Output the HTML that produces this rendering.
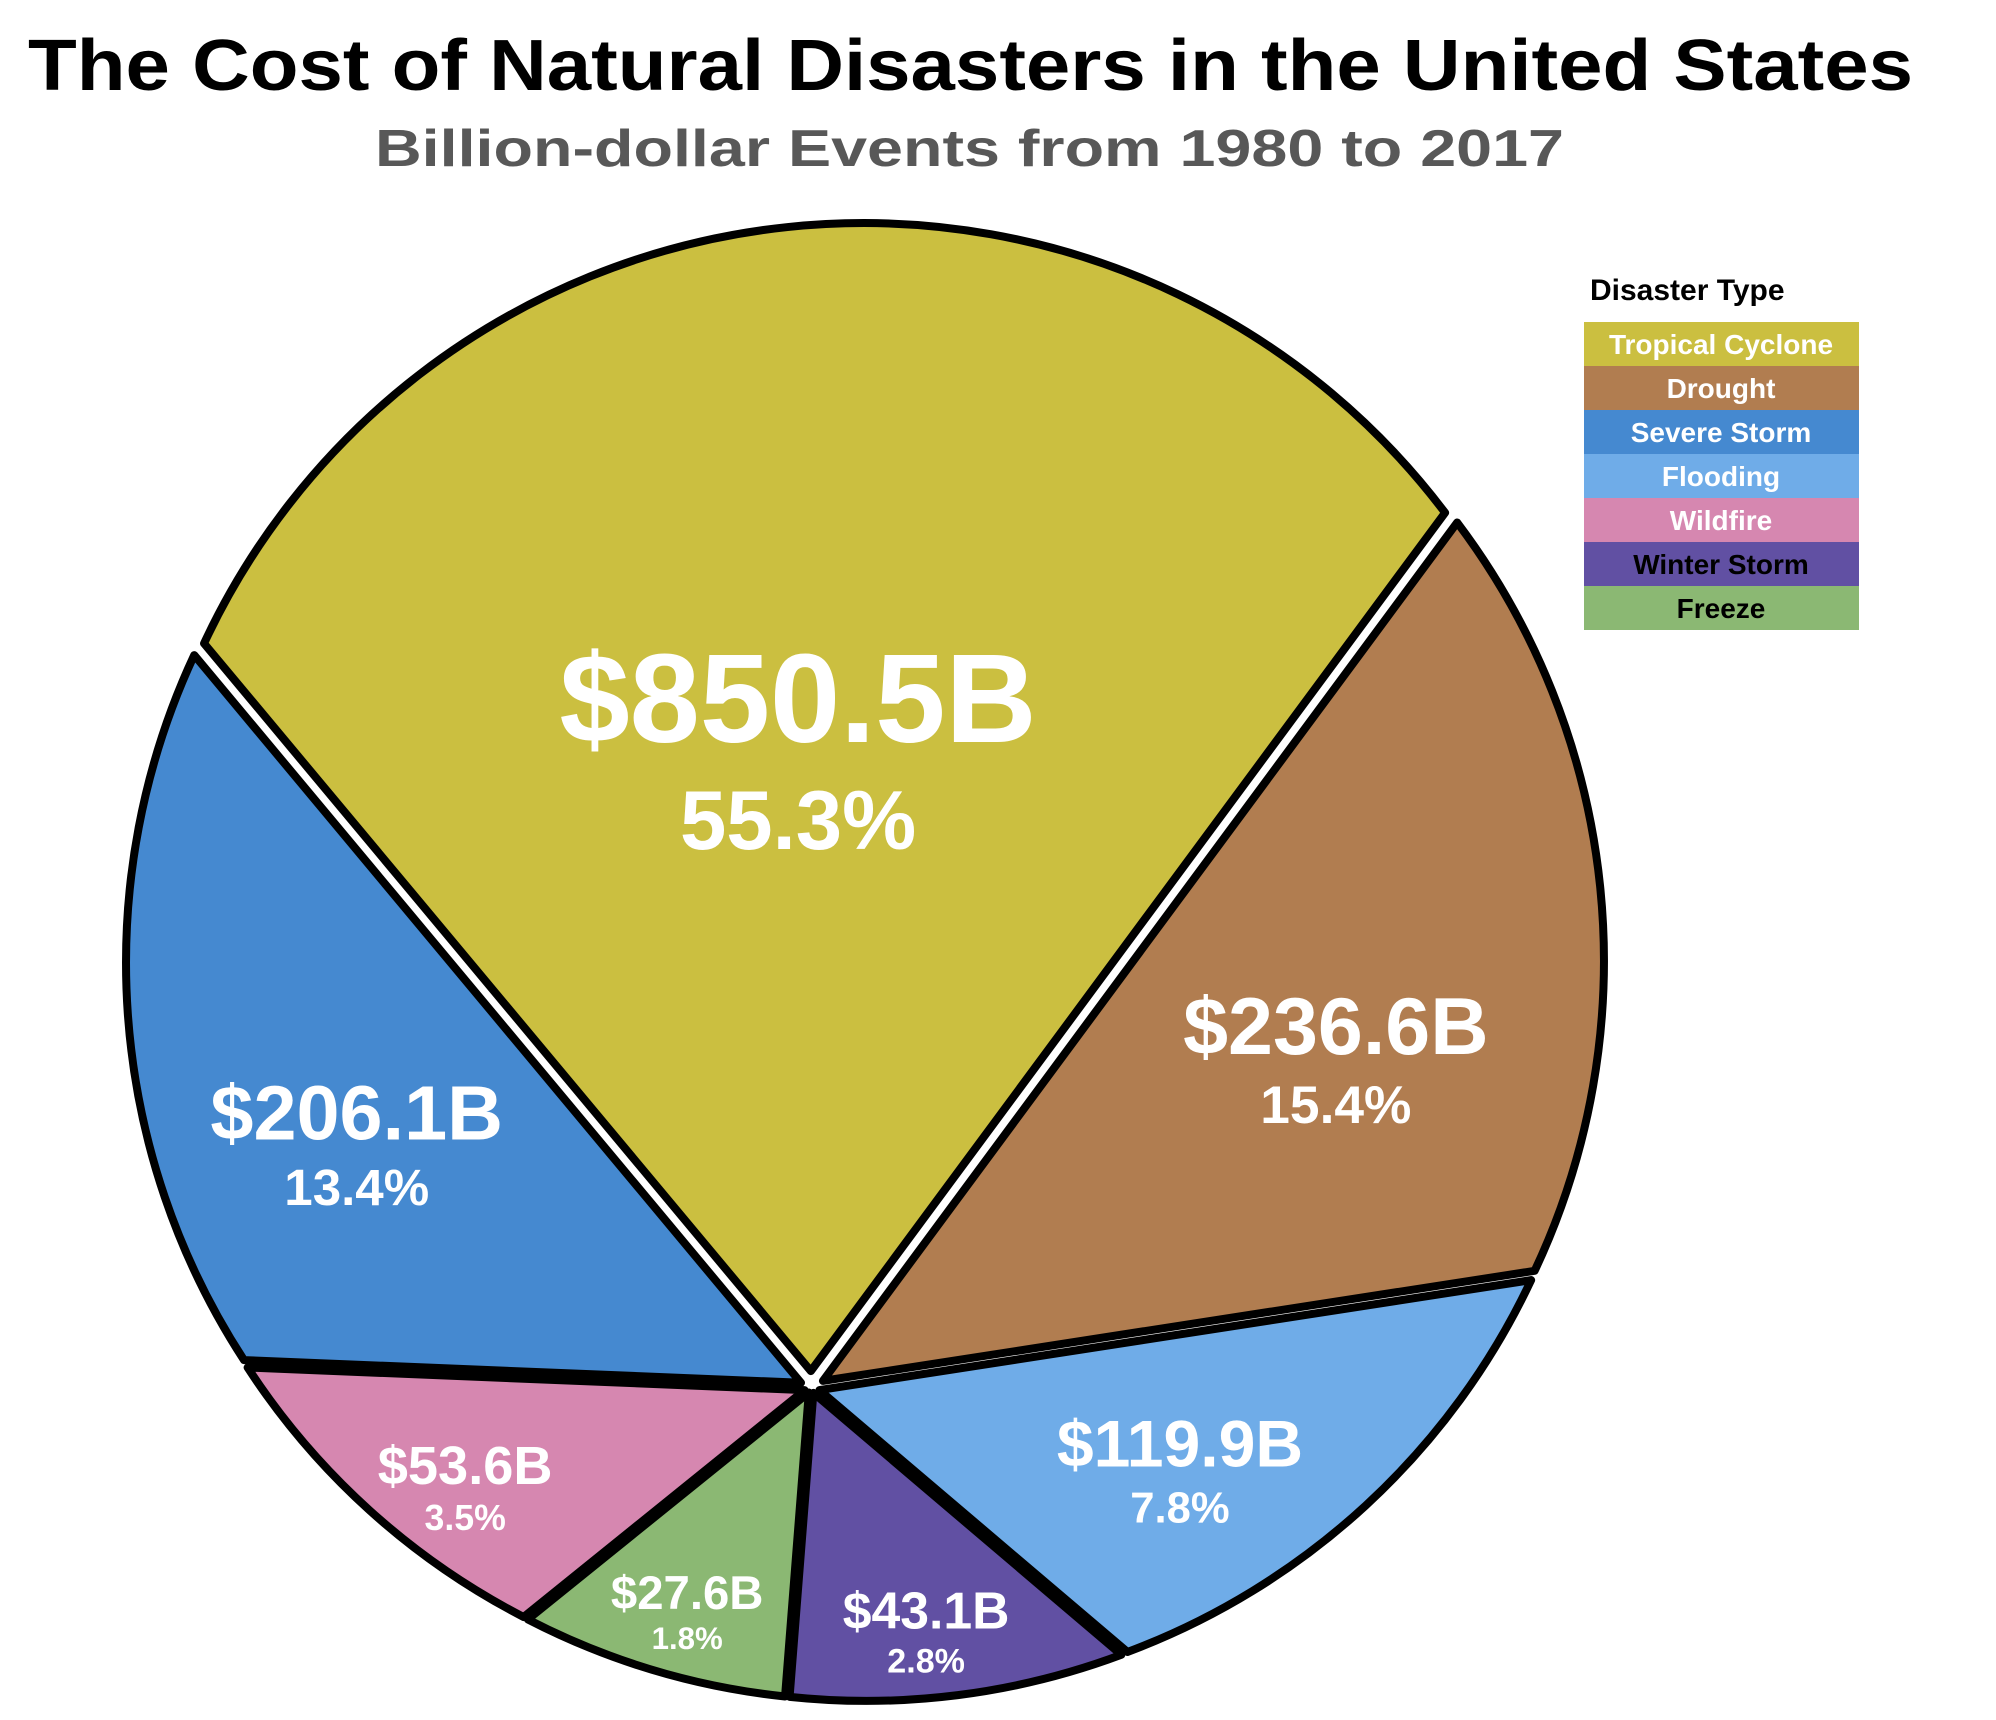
<!DOCTYPE html>
<html><head><meta charset="utf-8"><style>
html,body{margin:0;padding:0;background:#fff;}
svg{display:block;font-family:"Liberation Sans",sans-serif;font-weight:bold;}
</style></head><body>
<svg id="chart" width="1996" height="1720" viewBox="0 0 1996 1720">
<text x="28" y="90" font-size="72" textLength="1885" lengthAdjust="spacingAndGlyphs" fill="#000">The Cost of Natural Disasters in the United States</text>
<text x="375" y="166" font-size="52" textLength="1189" lengthAdjust="spacingAndGlyphs" fill="#585858">Billion-dollar Events from 1980 to 2017</text>
<g id="slices"></g>
<g id="labels"></g>
<g id="legend">
<text x="1590" y="300" font-size="30" fill="#000">Disaster Type</text>
</g>
</svg>
<script>
const categories = ["Tropical Cyclone","Drought","Flooding","Winter Storm","Freeze","Wildfire","Severe Storm"];
const costs = [850.5, 236.6, 119.9, 43.1, 27.6, 53.6, 206.1];
const percents = ["55.3%","15.4%","7.8%","2.8%","1.8%","3.5%","13.4%"];
const costLabels = ["$850.5B","$236.6B","$119.9B","$43.1B","$27.6B","$53.6B","$206.1B"];
const colors = ["#CBBF40","#B17D50","#6FACE8","#6150A3","#8BB873","#D687B0","#4589D0"];
const legendOrder = ["Tropical Cyclone","Drought","Severe Storm","Flooding","Wildfire","Winter Storm","Freeze"];
const legendText = ["#fff","#fff","#fff","#fff","#fff","#000","#000"];

const NS = "http://www.w3.org/2000/svg";
const Cx = 865, Cy = 962, R = 728;
const Vx = Cx - 53, Vy = Cy + 420;
const startAngle = 155 * Math.PI / 180;
// rim angle share proportional to sqrt(cost)
const weights = costs.map(v => Math.sqrt(v));
const wTotal = weights.reduce((a, b) => a + b, 0);
function rim(t) { return [Cx + R * Math.cos(t), Cy - R * Math.sin(t)]; }
const slicesG = document.getElementById('slices');
const labelsG = document.getElementById('labels');
let s = startAngle;
costs.forEach((v, i) => {
  const th = weights[i] / wTotal * 2 * Math.PI;
  const e = s - th, m = s - th / 2;
  const p1 = rim(s), p2 = rim(e);
  const ox = Math.cos(m) * 11, oy = -Math.sin(m) * 11;
  const path = document.createElementNS(NS, 'path');
  path.setAttribute('d', `M${Vx},${Vy} L${p1[0]},${p1[1]} A${R},${R} 0 ${th > Math.PI ? 1 : 0} 1 ${p2[0]},${p2[1]} Z`);
  path.setAttribute('fill', colors[i]);
  path.setAttribute('stroke', '#000');
  path.setAttribute('stroke-width', '8');
  path.setAttribute('stroke-linejoin', 'round');
  path.setAttribute('transform', `translate(${ox},${oy})`);
  
  
  slicesG.appendChild(path);
  const pm = rim(m);
  const t = v > 500 ? 0.55 : (v > 100 ? 0.66 : 0.78);
  const lx = Vx + (pm[0] - Vx) * t + ox, ly = Vy + (pm[1] - Vy) * t + oy;
  const fs = 30 + 3.3 * Math.sqrt(v);
  const t1 = document.createElementNS(NS, 'text');
  t1.setAttribute('x', lx); t1.setAttribute('y', ly);
  t1.setAttribute('text-anchor', 'middle');
  t1.setAttribute('font-size', fs.toFixed(1));
  t1.setAttribute('fill', '#fff');
  t1.textContent = costLabels[i];
  
  
  labelsG.appendChild(t1);
  const t2 = document.createElementNS(NS, 'text');
  t2.setAttribute('x', lx); t2.setAttribute('y', ly + fs * 0.85);
  t2.setAttribute('text-anchor', 'middle');
  t2.setAttribute('font-size', (fs * 0.66).toFixed(1));
  t2.setAttribute('fill', '#fff');
  t2.textContent = percents[i];
  
  
  labelsG.appendChild(t2);
  s = e;
});
const legendG = document.getElementById('legend');
legendOrder.forEach((name, j) => {
  const idx = categories.indexOf(name);
  const r = document.createElementNS(NS, 'rect');
  r.setAttribute('x', 1584); r.setAttribute('y', 322 + j * 44);
  r.setAttribute('width', 275); r.setAttribute('height', 44);
  r.setAttribute('fill', colors[idx]);
  
  
  legendG.appendChild(r);
  const tx = document.createElementNS(NS, 'text');
  tx.setAttribute('x', 1721); tx.setAttribute('y', 322 + j * 44 + 32);
  tx.setAttribute('text-anchor', 'middle');
  tx.setAttribute('font-size', '28');
  tx.setAttribute('fill', legendText[j]);
  tx.textContent = name;
  
  
  legendG.appendChild(tx);
});
</script>
</body></html>
